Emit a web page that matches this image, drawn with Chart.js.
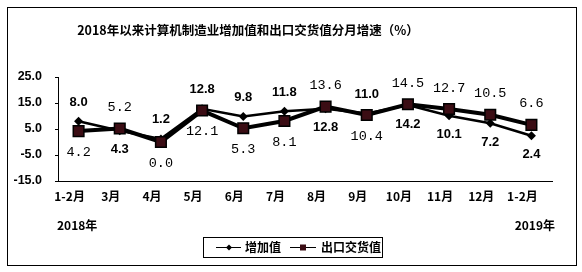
<!DOCTYPE html>
<html lang="zh">
<head>
<meta charset="UTF-8">
<title>2018年以来计算机制造业增加值和出口交货值分月增速</title>
<script src="https://cdn.jsdelivr.net/npm/chart.js"></script>
<style>
  html, body { margin: 0; padding: 0; background: #fff; }
  #wrap { width: 582px; height: 272px; position: relative; }
</style>
</head>
<body>
<div id="wrap"><canvas id="chart"></canvas></div>
<script>
const months = ['1-2月', '3月', '4月', '5月', '6月', '7月', '8月', '9月', '10月', '11月', '12月', '1-2月'];
const addedValue = [8.0, 4.3, 1.2, 12.8, 9.8, 11.8, 12.8, 11.0, 14.2, 10.1, 7.2, 2.4];
const exportValue = [4.2, 5.2, 0.0, 12.1, 5.3, 8.1, 13.6, 10.4, 14.5, 12.7, 10.5, 6.6];
// label above (-1) or below (+1) each point
const addedLabelSide = [-1, 1, -1, -1, -1, -1, 1, -1, 1, 1, 1, 1];
const exportLabelSide = [1, -1, 1, 1, 1, 1, -1, 1, -1, -1, -1, -1];
const yearLabels = ['2018年', '2019年'];
const seriesNames = ['增加值', '出口交货值'];

const CJK = '"Noto Sans CJK SC", sans-serif';
const ARIAL = '"Liberation Sans", Arial, sans-serif';
const MONO = '"Liberation Mono", "DejaVu Sans Mono", monospace';
const squareFill = '#3b0d14';

const decor = {
  id: 'decor',
  afterDatasetsDraw(chart) {
    const ctx = chart.ctx;
    ctx.save();
    // value labels
    ctx.textAlign = 'center';
    ctx.textBaseline = 'middle';
    ctx.fillStyle = '#000';
    const m0 = chart.getDatasetMeta(0), m1 = chart.getDatasetMeta(1);
    m0.data.forEach((p, i) => {
      ctx.font = 'bold 13px ' + ARIAL;
      ctx.fillText(addedValue[i].toFixed(1), p.x, p.y + addedLabelSide[i] * 19);
    });
    m1.data.forEach((p, i) => {
      ctx.font = '13.5px ' + MONO;
      ctx.fillText(exportValue[i].toFixed(1), p.x, p.y + exportLabelSide[i] * 21);
    });
    ctx.restore();
  },
  afterDraw(chart) {
    const ctx = chart.ctx;
    ctx.save();
    // frame
    ctx.strokeStyle = '#000';
    ctx.lineWidth = 1;
    ctx.strokeRect(7.5, 7.5, 569, 258);
    // title
    ctx.fillStyle = '#000';
    ctx.textAlign = 'center';
    ctx.textBaseline = 'middle';
    ctx.font = 'bold 12.5px ' + CJK;
    ctx.fillText('2018年以来计算机制造业增加值和出口交货值分月增速（%）', 248, 30);
    // years
    ctx.font = 'bold 12px ' + CJK;
    ctx.textAlign = 'left';
    ctx.fillText(yearLabels[0], 57, 225);
    ctx.textAlign = 'right';
    ctx.fillText(yearLabels[1], 555, 225);
    // legend
    ctx.strokeRect(203.5, 237.5, 179, 20);
    ctx.textAlign = 'left';
    ctx.font = 'bold 12px ' + CJK;
    const ly = 247.5;
    // item 1
    ctx.lineWidth = 1;
    ctx.beginPath(); ctx.moveTo(216, ly); ctx.lineTo(241, ly); ctx.stroke();
    ctx.beginPath();
    ctx.moveTo(229, ly - 3); ctx.lineTo(232, ly); ctx.lineTo(229, ly + 3); ctx.lineTo(226, ly);
    ctx.closePath(); ctx.fill();
    ctx.fillText(seriesNames[0], 245, ly);
    // item 2
    ctx.beginPath(); ctx.moveTo(290, ly); ctx.lineTo(316, ly); ctx.stroke();
    ctx.fillStyle = squareFill;
    ctx.fillRect(300, ly - 3, 6, 6);
    ctx.fillStyle = '#000';
    ctx.fillText(seriesNames[1], 321, ly);
    ctx.restore();
  }
};

new Chart(document.getElementById('chart'), {
  type: 'line',
  data: {
    labels: months,
    datasets: [
      {
        label: seriesNames[0],
        data: addedValue,
        borderColor: '#000',
        backgroundColor: '#000',
        borderWidth: 2.5,
        pointStyle: 'rectRot',
        pointRadius: 4.5,
        pointBorderWidth: 0,
        tension: 0,
        order: 1
      },
      {
        label: seriesNames[1],
        data: exportValue,
        borderColor: '#000',
        backgroundColor: squareFill,
        pointBorderColor: '#000',
        borderWidth: 4,
        pointStyle: 'rect',
        pointRadius: 7.5,
        pointBorderWidth: 1.5,
        tension: 0,
        order: 0
      }
    ]
  },
  options: {
    responsive: true,
    maintainAspectRatio: false,
    animation: false,
    layout: { padding: { left: 0, top: 77, right: 30, bottom: 61 } },
    plugins: { legend: { display: false }, tooltip: { enabled: false }, title: { display: false } },
    scales: {
      x: {
        offset: true,
        grid: { drawOnChartArea: false, drawTicks: false },
        border: { color: '#000', width: 1 },
        ticks: {
          color: '#000',
          font: { family: CJK, size: 12, weight: 'bold' },
          padding: 8,
          labelOffset: -9,
          maxRotation: 0,
          autoSkip: false
        },
        afterFit(s) { s.height = 30; }
      },
      y: {
        min: -15,
        max: 25,
        grid: { drawOnChartArea: false, drawTicks: true, tickLength: 3, color: '#000' },
        border: { color: '#000', width: 1 },
        ticks: {
          stepSize: 10,
          color: '#000',
          padding: 13,
          font: { family: ARIAL, size: 12.5, weight: 'bold' },
          callback: v => v.toFixed(1)
        },
        afterFit(s) { s.width = 58; }
      }
    }
  },
  plugins: [decor]
});
</script>
</body>
</html>
